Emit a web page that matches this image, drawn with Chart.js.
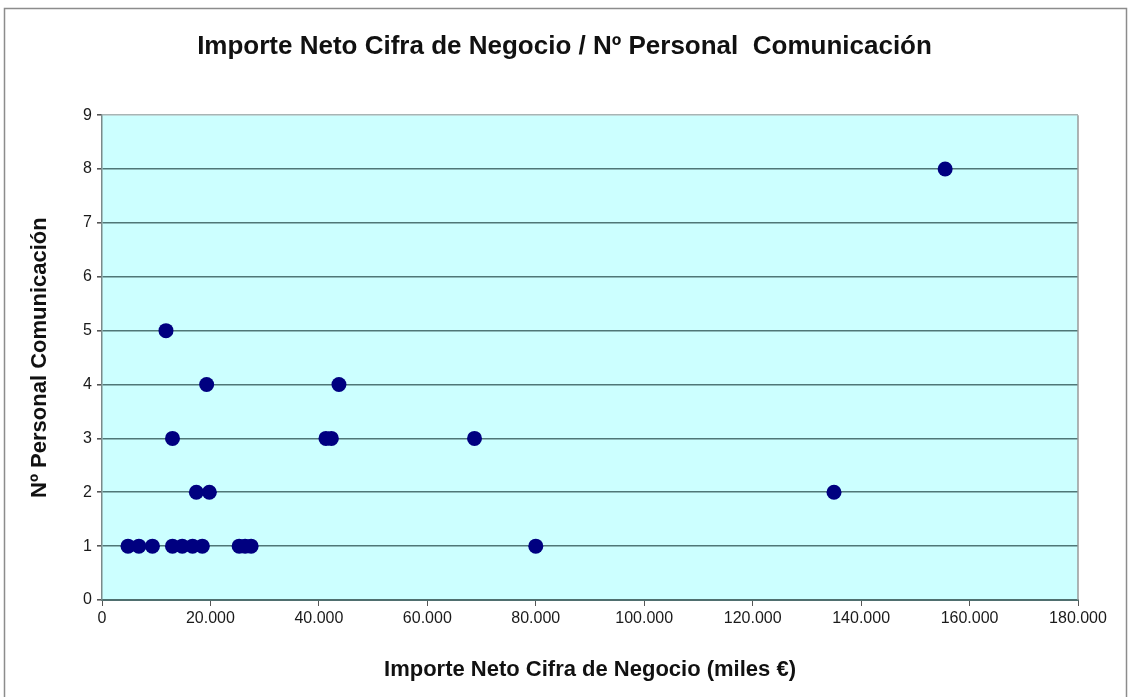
<!DOCTYPE html>
<html>
<head>
<meta charset="utf-8">
<title>Importe Neto Cifra de Negocio / Nº Personal Comunicación</title>
<script src="https://cdn.jsdelivr.net/npm/chart.js@4/dist/chart.umd.min.js"></script>
<style>
  body { margin: 0; background: #fff; }
  canvas { display: block; }
</style>
</head>
<body>
<canvas id="dispersion" width="1129" height="697"></canvas>
<script>
// importe neto (miles €) y nº de personal de comunicación por empresa
const importes = [
  4800, 6800, 9300, 13000, 14800, 16700, 18500, 25300, 26400, 27500, 80000,
  17400, 19800, 135000,
  13000, 41300, 42300, 68700,
  19300, 43700,
  11800,
  155500,
];
const personal = [
  1, 1, 1, 1, 1, 1, 1, 1, 1, 1, 1,
  2, 2, 2,
  3, 3, 3, 3,
  4, 4,
  5,
  8,
];
const ticksX = [0, 20000, 40000, 60000, 80000, 100000, 120000, 140000, 160000, 180000];
const ticksY = [0, 1, 2, 3, 4, 5, 6, 7, 8, 9];

const puntos = importes.map((v, i) => ({ x: v, y: personal[i] }));

function miles(v) {
  return String(v).replace(/\B(?=(\d{3})+(?!\d))/g, ".");
}

const fuente = "'Liberation Sans', Arial, sans-serif";

// fondo del area de trazado + marcos
const marcos = {
  id: "marcos",
  beforeDraw(chart) {
    const { ctx, chartArea: a } = chart;
    ctx.save();
    ctx.fillStyle = "#ccffff";
    ctx.fillRect(a.left, a.top, a.right - a.left, a.bottom - a.top);
    ctx.restore();
  },
  afterDraw(chart) {
    const { ctx, chartArea: a } = chart;
    ctx.save();
    ctx.strokeStyle = "#9a9a9a";
    ctx.lineWidth = 1.5;
    ctx.beginPath();
    ctx.moveTo(a.right, a.top);
    ctx.lineTo(a.right, a.bottom);
    ctx.stroke();
    ctx.strokeStyle = "#8c8c8c";
    ctx.lineWidth = 1.5;
    ctx.strokeRect(4.5, 8.5, 1122, 700);
    ctx.restore();
  },
};

new Chart(document.getElementById("dispersion"), {
  type: "scatter",
  data: {
    datasets: [
      {
        label: "Nº Personal Comunicación",
        data: puntos,
        pointRadius: 7.5,
        pointHoverRadius: 7.5,
        backgroundColor: "#000080",
        borderColor: "#000080",
        borderWidth: 0,
      },
    ],
  },
  options: {
    responsive: false,
    animation: false,
    layout: { padding: 0 },
    plugins: {
      legend: { display: false },
      tooltip: { enabled: false },
      title: {
        display: true,
        text: "Importe Neto Cifra de Negocio / Nº Personal  Comunicación",
        color: "#111",
        font: { family: fuente, size: 26, weight: "bold" },
        padding: { top: 31, bottom: 53 },
      },
    },
    scales: {
      x: {
        type: "linear",
        min: 0,
        max: 180000,
        afterBuildTicks(scale) {
          scale.ticks = ticksX.map((v) => ({ value: v }));
        },
        afterFit(scale) {
          scale.height = 97;
        },
        border: { display: true, color: "#4f6f6f", width: 2 },
        grid: {
          drawOnChartArea: false,
          drawTicks: true,
          tickLength: 6,
          tickColor: "#555",
        },
        ticks: {
          color: "#1a1a1a",
          padding: 3,
          maxRotation: 0,
          font: { family: fuente, size: 16 },
          callback: (v) => miles(v),
        },
        title: {
          display: true,
          text: "Importe Neto Cifra de Negocio (miles €)",
          color: "#111",
          font: { family: fuente, size: 22, weight: "bold" },
          padding: { top: 0, bottom: 14 },
        },
      },
      y: {
        min: 0,
        max: 9,
        afterBuildTicks(scale) {
          scale.ticks = ticksY.map((v) => ({ value: v }));
        },
        afterFit(scale) {
          scale.width = 102;
        },
        border: { display: true, color: "#7a8a8a", width: 1.5 },
        grid: {
          color: (c) => (c.tick && c.tick.value === 9 ? "#a8b4b4" : "#4f7777"),
          lineWidth: 1.6,
          tickLength: 5,
          tickColor: "#555",
        },
        ticks: {
          color: "#1a1a1a",
          padding: 5,
          font: { family: fuente, size: 16 },
        },
        title: {
          display: true,
          text: "Nº Personal Comunicación",
          color: "#111",
          font: { family: fuente, size: 22, weight: "bold" },
          padding: { top: 27, bottom: 0 },
        },
      },
      // margen derecho vacio, para que el titulo quede centrado en todo el ancho
      margen: {
        type: "linear",
        position: "right",
        min: 0,
        max: 9,
        afterFit(scale) {
          scale.width = 51;
        },
        border: { display: false },
        grid: { display: false },
        ticks: { display: false },
      },
    },
  },
  plugins: [marcos],
});
</script>
</body>
</html>
